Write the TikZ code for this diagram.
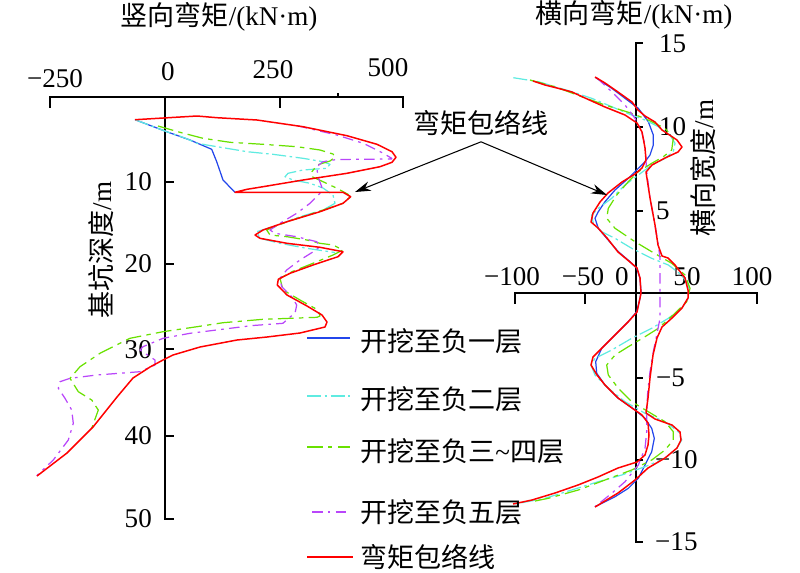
\documentclass[tikz,border=0pt]{standalone}
\usepackage{fontspec}
\setmainfont{Liberation Serif}
\newfontfamily\cjk{Noto Sans CJK SC}
\usepackage{tikz}
\usetikzlibrary{arrows.meta}

\definecolor{stageblue}{RGB}{35,70,235}
\definecolor{stagecyan}{RGB}{95,235,225}
\definecolor{stagegreen}{RGB}{105,225,0}
\definecolor{stagepurple}{RGB}{185,70,250}
\definecolor{envred}{RGB}{255,0,0}

\begin{document}
\begin{tikzpicture}[x=0.02cm, y=-0.02cm, font=\fontsize{15.4}{18}\selectfont,
        axline/.style={line width=0.8pt, line cap=rect},
        fuyi/.style={line width=0.7pt, line join=round, draw=stageblue},
        fuer/.style={line width=0.7pt, line join=round, draw=stagecyan, dash pattern=on 8pt off 2pt on 1.5pt off 2pt},
        fusan/.style={line width=0.7pt, line join=round, draw=stagegreen, dash pattern=on 9pt off 3pt on 2.5pt off 3pt},
        fuwu/.style={line width=0.7pt, line join=round, draw=stagepurple, dash pattern=on 6pt off 3pt on 1.5pt off 3pt},
        baoluo/.style={line width=0.85pt, line join=round, draw=envred},
        pointer/.style={line width=0.6pt, -{Stealth[length=9pt,width=5.5pt]}}]
        \useasboundingbox (0,0) rectangle (800,572);

        % vertical moment, left chart
        \draw [axline] (50,107) -- (50,97) -- (403,97) -- (403,107);
        \draw [axline] (280,97) -- (280,107);
        \draw [axline] (338,97) -- (338,94);
        \draw [axline] (165,97) -- (165,519) -- (173,519);
        \draw [axline] (165,182) -- (173,182);
        \draw [axline] (165,264) -- (173,264);
        \draw [axline] (165,349) -- (173,349);
        \draw [axline] (165,436) -- (173,436);
        \node (ltitle) at (219,17) {{\cjk 竖向弯矩}/(kN·m)};
        \node (lm250) at (55,79) {−250};
        \node (l0) at (168,72) {0};
        \node (l250) at (273,70) {250};
        \node (l500) at (388,68) {500};
        \node[anchor=east] (d10) at (158,182) {10};
        \node[anchor=east] (d20) at (158,264) {20};
        \node[anchor=east] (d30) at (158,350) {30};
        \node[anchor=east] (d40) at (158,436) {40};
        \node[anchor=east] (d50) at (158,519) {50};
        \node[rotate=90] (lylabel) at (101,250) {{\cjk 基坑深度}/m};

        \draw [fuyi] (135,119.7) -- (166.7,131.7) -- (190,140) -- (211.7,149.3) -- (216.7,161.7) -- (223,180) -- (235,192.3);
        \draw [fuer] (135,119.7) -- (166.7,131.7) -- (185,138) -- (197,143.3) -- (217,146.7) -- (247,151.7) -- (273,154.3) -- (303,158.3) -- (323,161.7) -- (330,164.3) -- (326.7,168.3) -- (303,170) -- (288,173.3) -- (285,176.7) -- (293,180) -- (310,183.3) -- (323,188) -- (333,195) -- (335,203.3) -- (323,210) -- (300,216.7) -- (273,226.7) -- (256.7,231.7) -- (260,238.3) -- (280,243.3) -- (306.7,248.3) -- (335,252.5);
        \draw [fusan] (158,126) -- (180,132.3) -- (203,138.3) -- (230,142.3) -- (263,144.3) -- (297,146.7) -- (320,150) -- (333,154) -- (335,157) -- (330,161) -- (317,165) -- (312,171.7) -- (312,176.7) -- (323,181.7) -- (337,188.3) -- (348,194.3) -- (350,197) -- (343,203.3) -- (333,206.7) -- (313,213.3) -- (287,221.7) -- (266.7,230) -- (270,235) -- (287,236.7) -- (307,240) -- (320,243.3) -- (333,245) -- (343,250) -- (333,255) -- (313,263.3) -- (292,271.7) -- (280,278.3) -- (283,290) -- (300,300) -- (318,310) -- (320,316) -- (317,317.3) -- (263,319.3) -- (223,322.7) -- (197,326.7) -- (163,331.7) -- (130,338.3) -- (100,353.3) -- (80,366.7) -- (70,378.3) -- (78.3,391.7) -- (91.7,400) -- (98.3,410) -- (91.7,428.3);
        \draw [fuwu] (297,125.7) -- (336.7,135) -- (363.3,143.3) -- (383.3,153.3) -- (391.7,158.3) -- (391.7,159) -- (336.7,159.5) -- (323,161.7) -- (316.7,166.7) -- (318,176.7) -- (321.7,186.7) -- (320,193.3) -- (310,203.3) -- (296.7,213.3) -- (280,223.3) -- (270,230) -- (275,233.3) -- (296.7,236.7) -- (316.7,241.7) -- (320,246.7) -- (313.3,251.7) -- (300,260) -- (286.7,270) -- (280,278.3) -- (281.7,286.7) -- (291.7,296.7) -- (296.7,305) -- (295,313.3) -- (288.3,318.3) -- (283,323.3) -- (253,325.5) -- (230,328.3) -- (190,333.3) -- (163,338.3) -- (143,346.7) -- (140,350) -- (155,360) -- (155,365) -- (140,371.7) -- (96.7,375) -- (70,378.3) -- (60,381.7) -- (58.3,388.3) -- (65,398.3) -- (71.7,410) -- (73.3,423.3) -- (68.3,440) -- (53.3,460) -- (36.7,475.7);
        \draw [baoluo] (135,119.7) -- (197,116) -- (217,117.7) -- (257,120) -- (303,126.7) -- (347,135.7) -- (377,144.3) -- (392,151.7) -- (396,157.3) -- (392,162.3) -- (380,166.7) -- (347,173.3) -- (303,180) -- (263,186.7) -- (247,189.3) -- (235,192.3) -- (343,192.3) -- (350.7,196.7) -- (343,203.3) -- (320,211.7) -- (287,221.7) -- (263,230) -- (255,235) -- (260,238.3) -- (287,243.3) -- (320,247.3) -- (343,251.7) -- (338,256.7) -- (313,265) -- (290,273.3) -- (278.3,279.3) -- (277.3,285) -- (287,295) -- (307,306) -- (322,315) -- (327,322) -- (325,327) -- (300,333) -- (267,337) -- (237,340) -- (200,347) -- (173,355) -- (163,360) -- (150,367) -- (133,378) -- (117,397) -- (93,427) -- (67,453) -- (37,476);

        % horizontal moment, right chart
        \draw [axline] (515,303) -- (515,293) -- (757,293) -- (757,303);
        \draw [axline] (585,293) -- (585,303);
        \draw [axline] (642,43) -- (636,43) -- (636,542) -- (642,542);
        \draw [axline] (636,127) -- (642,127);
        \draw [axline] (636,211) -- (642,211);
        \draw [axline] (636,378) -- (642,378);
        \draw [axline] (636,460) -- (642,460);
        \node (rtitle) at (634,15) {{\cjk 横向弯矩}/(kN·m)};
        \node (rm100) at (512,277) {−100};
        \node (rm50) at (583,277) {−50};
        \node (r0) at (622,277) {0};
        \node (r50) at (687,277) {50};
        \node (r100) at (752,277) {100};
        \node[anchor=west] (w15) at (653,44) {15};
        \node[anchor=west] (w10) at (653,127) {10};
        \node[anchor=west] (w5) at (650,211) {5};
        \node[anchor=west] (wm5) at (650,378) {−5};
        \node[anchor=west] (wm10) at (649,460) {−10};
        \node[anchor=west] (wm15) at (649,542) {−15};
        \node[rotate=90] (rylabel) at (703,168) {{\cjk 横向宽度}/m};

        \draw [fuyi] (595.7,77.7) -- (611.7,88.3) -- (625,98.3) -- (638.3,108.3) -- (648.3,121.7) -- (653.3,135) -- (653.3,145) -- (650,155) -- (645,161.7) -- (638.3,168.3) -- (628.3,178.3) -- (615,190) -- (605,201.7) -- (598.3,211.7) -- (595,218.3) -- (598.3,228.3) -- (606.7,238.3) -- (618.3,251.7) -- (630,261.7) -- (636.7,268.3) -- (640,278.3) -- (641,291.7) -- (640,298.3) -- (636.7,311.7) -- (628,322) -- (615,335) -- (601.7,348.3) -- (595.7,361.7) -- (596.7,373.3) -- (605,385) -- (618.3,398.3) -- (635,410) -- (645,418.3) -- (651.7,428.3) -- (654.3,438.3) -- (651.7,451.7) -- (645,465) -- (638.3,478.3) -- (628.3,488.3) -- (615,496.7) -- (595,506.7);
        \draw [fuer] (513.3,77.7) -- (538.3,81.7) -- (571.7,91.7) -- (591.7,98.3) -- (611.7,106.7) -- (631.7,115) -- (645,120) -- (658.3,126.7) -- (670,135) -- (675,143.3) -- (673.3,151.7) -- (665,158.3) -- (651.7,165) -- (638.3,175) -- (625,185) -- (611.7,198.3) -- (598.3,208.3) -- (591.7,215) -- (593.3,223.3) -- (601.7,231.7) -- (615,238.3) -- (631.7,248.3) -- (651.7,258.3) -- (668.3,265) -- (681.7,275) -- (688.3,285) -- (688.3,298.3) -- (681.7,308.3) -- (668.3,318.3) -- (651.7,328.3) -- (631.7,338.3) -- (611.7,350) -- (595,358.3) -- (591,365) -- (595,375) -- (608.3,388.3) -- (625,401.7) -- (645,413.3) -- (665,421.7) -- (678.3,431.7) -- (681.7,440) -- (676.7,448.3) -- (665,458.3) -- (645,466.7) -- (621.7,475) -- (598.3,481.7) -- (571.7,490) -- (545,498.3) -- (513.3,504.3);
        \draw [fusan] (530,80) -- (555,86.7) -- (581.7,96.7) -- (605,105) -- (631.7,113.3) -- (648.3,120) -- (665,128.3) -- (673.3,138.3) -- (671.7,150) -- (663.3,156.7) -- (651.7,163.3) -- (638.3,171.7) -- (628.3,181.7) -- (616.7,195) -- (608.3,208.3) -- (606.7,218.3) -- (615,228.3) -- (635,241.7) -- (651.7,251.7) -- (671.7,263.3) -- (685,275) -- (690,288.3) -- (686.7,301.7) -- (675,313.3) -- (658.3,328.3) -- (645,336.7) -- (628.3,346.7) -- (615,355) -- (606.7,365) -- (608.3,375) -- (618.3,388.3) -- (631.7,401.7) -- (648.3,411.7) -- (665,421.7) -- (673.3,431.7) -- (673.3,440) -- (665,450) -- (651.7,460) -- (631.7,470) -- (605,480) -- (578.3,490) -- (548.3,498.3) -- (531.7,501.7);
        \draw [fuwu] (597,78) -- (611.7,91.7) -- (625,105) -- (635,118.3) -- (641.7,131.7) -- (645,145) -- (646.7,171.7) -- (650,198.3) -- (655,225) -- (658.3,245) -- (660,258.3) -- (660,318.3) -- (656.7,335) -- (653.3,351.7) -- (650,371.7) -- (647.7,391.7) -- (646.7,411.7) -- (646.7,431.7) -- (645,448.3) -- (638.3,465) -- (625,481.7) -- (611.7,493.3) -- (595,506.7);
        \draw [baoluo] (595,77) -- (605,83) -- (618,92) -- (632,102) -- (638,110) -- (645,116) -- (655,122) -- (662,130) -- (677,140) -- (682,147) -- (678,152) -- (665,158) -- (652,165) -- (646,172) -- (648,185) -- (650,198) -- (655,225) -- (658,245) -- (662,256) -- (668,258) -- (675,265) -- (685,278) -- (688,290) -- (688,298) -- (682,308) -- (672,318) -- (662,327) -- (657,338) -- (653,355) -- (650,378) -- (648,398) -- (646,413) -- (655,419) -- (672,425) -- (680,432) -- (681,440) -- (677,448) -- (665,458) -- (648,468) -- (635,480) -- (618,493) -- (595,507);
        \draw [baoluo] (533,81) -- (545,85) -- (557,88) -- (572,92) -- (585,98) -- (605,107) -- (625,115) -- (637,123) -- (642,132) -- (645,148) -- (646,160) -- (642,168) -- (635,174) -- (622,182) -- (608,193) -- (600,202) -- (593,213) -- (591,222) -- (598,228) -- (607,238) -- (618,252) -- (630,262) -- (637,268) -- (640,278) -- (641,293) -- (640,298) -- (637,312) -- (628,322) -- (615,335) -- (602,348) -- (593,357) -- (591,365) -- (597,375) -- (605,385) -- (618,398) -- (632,408) -- (642,415) -- (648,423) -- (649,435) -- (648,445) -- (645,455) -- (637,462) -- (618,468) -- (598,477) -- (578,485) -- (555,493) -- (532,500) -- (513,504);

        % envelope label
        \node (env) at (481,123) {\cjk 弯矩包络线};
        \coordinate (envl) at (355,192);
        \coordinate (envr) at (607,195);
        \draw [pointer] (env.south) -- (envl);
        \draw [pointer] (env.south) -- (envr);

        % legend
        \draw [fuyi] (307,338) -- (350,338);
        \draw [fuer] (307,396) -- (350,396);
        \draw [fusan] (307,447) -- (350,447);
        \draw [fuwu] (312,512) -- (350,512);
        \draw [baoluo] (307,557) -- (353,557);
        \node[anchor=west] (leg1) at (354,341) {\cjk 开挖至负一层};
        \node[anchor=west] (leg2) at (354,399) {\cjk 开挖至负二层};
        \node[anchor=west] (leg3) at (354,451) {{\cjk 开挖至负三}\textasciitilde{\cjk 四层}};
        \node[anchor=west] (leg4) at (354,512) {\cjk 开挖至负五层};
        \node[anchor=west] (leg5) at (354,557) {\cjk 弯矩包络线};
\end{tikzpicture}
\end{document}
